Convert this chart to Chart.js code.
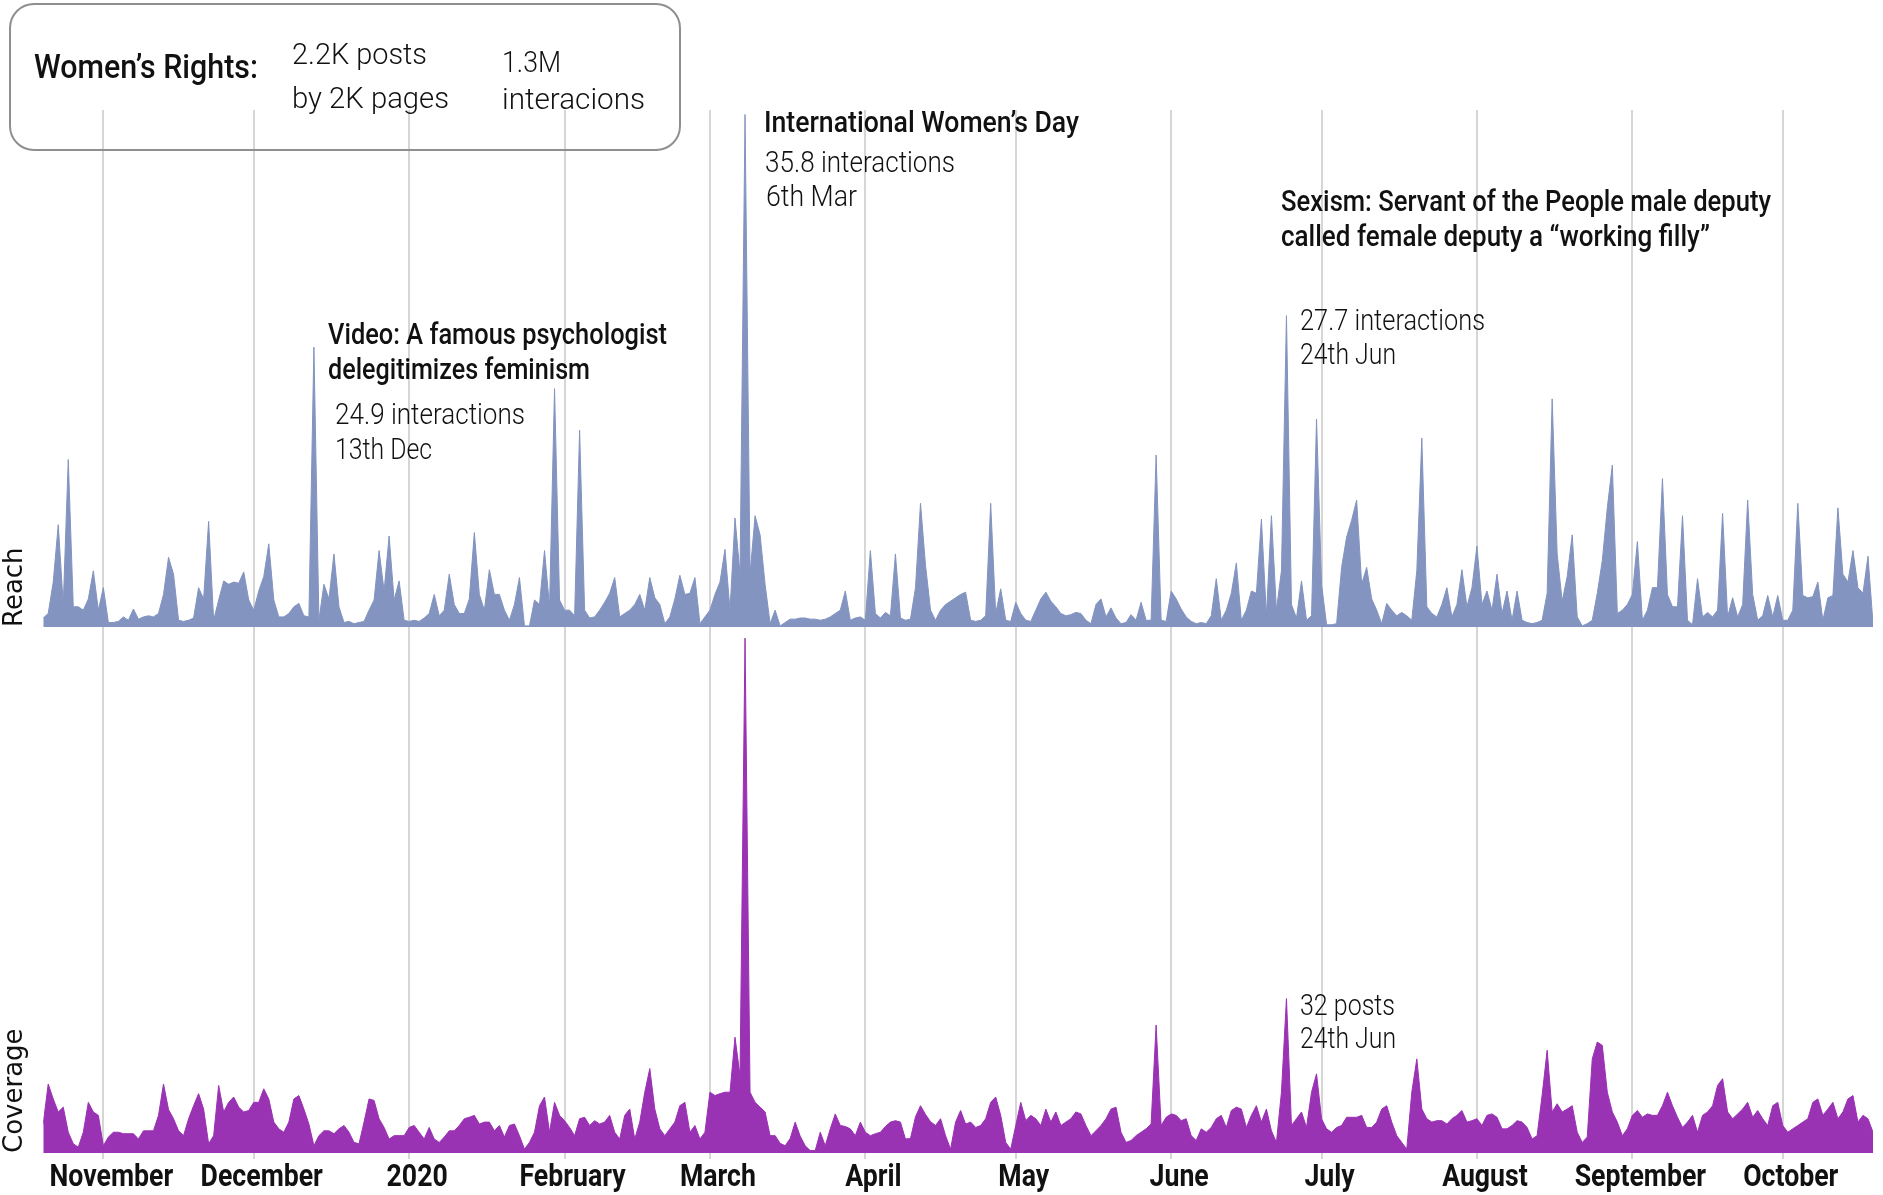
<!DOCTYPE html>
<html>
<head>
<meta charset="utf-8">
<script src="https://cdn.jsdelivr.net/npm/chart.js@4.4.1/dist/chart.umd.min.js"></script>
<style>
html, body { margin: 0; padding: 0; background: #fff; }
#wrap { width: 1883px; height: 1195px; }
</style>
</head>
<body>
<div id="wrap"><canvas id="chart" width="1883" height="1195"></canvas></div>
<script>
// day index 0 = 20 Oct 2019, last = 19 Oct 2020
var monthStarts = [12, 42, 73, 104, 133, 164, 194, 225, 255, 286, 317, 347];
var monthLabels = ['November', 'December', '2020', 'February', 'March', 'April',
                   'May', 'June', 'July', 'August', 'September', 'October'];

// interactions per day (thousands)
var reach = [
  0.8,1.2,4.0,9.1,2.0,14.9,1.8,1.8,1.5,2.5,
  5.0,1.5,3.5,0.4,0.4,0.5,0.9,0.6,1.6,0.7,
  0.9,1.0,0.9,1.2,2.9,6.2,4.7,0.6,0.5,0.6,
  0.8,3.5,2.5,9.4,0.6,2.4,4.1,3.8,4.0,3.9,
  4.9,2.4,1.5,3.2,4.5,7.4,2.4,0.9,0.9,1.2,
  1.8,2.1,1.0,0.9,24.9,0.6,3.8,2.5,6.5,1.8,
  0.4,0.5,0.3,0.4,0.5,1.5,2.4,6.8,3.2,8.1,
  2.4,4.1,0.6,0.5,0.6,0.5,0.8,1.2,2.9,1.0,
  1.5,4.7,2.0,1.2,1.2,2.5,8.4,2.9,1.5,5.1,
  2.9,2.9,1.5,0.6,2.0,4.4,0.1,0.1,2.4,2.0,
  6.8,1.8,21.2,2.4,1.5,1.5,1.0,17.5,1.5,0.8,
  0.9,1.5,2.2,3.0,4.4,0.9,1.2,1.5,2.0,2.9,
  1.5,4.4,2.6,2.0,0.3,0.9,2.5,4.6,2.9,3.0,
  4.4,0.3,0.9,1.5,2.9,4.0,6.9,1.5,9.7,4.7,
  45.6,4.7,9.9,8.2,3.8,0.3,1.5,0.1,0.4,0.7,
  0.7,0.8,0.8,0.7,0.7,0.6,0.7,0.9,1.2,1.5,
  3.2,0.6,0.8,0.9,0.6,6.8,1.2,0.8,1.3,1.0,
  6.5,0.8,0.6,0.7,3.5,11.0,5.5,1.5,0.6,1.5,
  2.0,2.3,2.6,2.9,3.1,0.6,0.5,0.6,1.0,11.0,
  1.2,3.4,0.6,0.5,2.2,1.2,0.6,0.5,1.5,2.5,
  3.1,2.3,1.8,1.2,1.0,1.1,1.3,1.2,0.6,0.3,
  2.0,2.5,0.9,1.7,0.8,0.3,0.4,1.1,0.6,2.2,
  0.6,0.6,15.3,0.6,0.5,3.2,2.5,1.6,0.9,0.5,
  0.3,0.4,0.3,1.0,4.3,0.6,1.5,3.0,5.7,0.6,
  1.5,3.2,3.0,9.6,1.0,9.9,1.5,5.0,27.7,2.0,
  0.8,4.1,0.6,1.0,18.5,3.8,0.2,0.2,0.3,5.3,
  8.0,9.5,11.3,3.8,5.3,2.5,1.5,0.3,2.1,1.5,
  1.0,1.3,1.0,0.6,5.0,16.8,1.8,1.2,0.9,2.0,
  3.5,0.9,2.0,5.1,1.8,3.5,7.2,2.0,3.2,1.5,
  4.7,1.2,3.2,0.6,3.2,0.6,0.4,0.3,0.4,0.6,
  3.0,20.3,6.5,2.3,4.5,8.2,0.9,0.1,0.3,0.6,
  3.0,5.9,10.6,14.4,1.2,1.5,2.0,2.9,7.6,0.6,
  1.5,3.5,3.5,13.2,2.9,1.8,1.8,9.9,0.6,0.2,
  4.3,0.9,1.3,0.9,1.5,10.1,0.9,2.6,0.9,2.0,
  11.3,2.9,0.6,1.0,2.8,0.9,2.8,0.6,0.6,1.5,
  11.0,2.8,2.6,2.7,4.0,0.6,2.6,2.8,10.6,4.7,
  4.0,6.8,3.5,3.0,6.3,0.3
];

// posts per day
var coverage = [
  6.0,14.3,11.2,8.5,9.5,4.3,1.9,1.2,4.3,10.5,
  8.5,7.8,1.5,3.3,4.3,4.3,4.0,4.0,4.0,2.9,
  4.6,4.6,4.6,7.8,14.3,9.0,7.1,4.6,3.6,7.1,
  9.8,12.3,9.1,1.9,3.6,14.0,8.5,10.5,11.6,9.5,
  8.5,8.8,10.5,10.5,13.3,11.2,6.4,5.0,4.3,6.4,
  11.2,11.9,9.1,6.0,1.5,3.6,4.6,4.6,4.0,5.0,
  5.7,4.3,2.2,1.9,6.4,11.2,10.9,7.1,5.3,2.9,
  3.6,3.6,3.6,5.3,5.7,4.3,2.9,5.3,2.9,2.2,
  3.3,4.6,4.6,5.7,7.1,7.4,7.8,6.0,6.4,6.4,
  4.6,5.7,3.3,5.7,6.0,3.6,0.8,2.2,4.3,9.8,
  11.6,4.3,10.5,7.8,6.7,5.3,3.6,7.1,7.4,5.7,
  6.7,6.0,6.4,7.8,4.3,2.9,7.8,9.1,2.9,6.4,
  12.6,17.5,9.1,5.0,3.6,5.0,6.4,9.8,10.5,4.3,
  5.7,2.9,4.3,12.6,11.9,12.3,12.6,12.6,24.0,16.0,
  106.7,12.6,10.5,9.5,8.5,3.6,3.6,2.0,1.5,3.0,
  6.4,3.5,1.5,0.5,0.5,4.3,1.5,5.0,8.1,5.7,
  5.5,5.0,3.6,6.4,4.3,3.6,4.0,4.3,5.5,6.4,
  6.7,6.4,2.9,3.0,7.5,9.8,8.0,6.5,5.7,7.1,
  3.6,0.8,6.4,8.8,6.0,6.4,5.3,5.7,7.1,10.5,
  11.6,7.8,2.2,0.8,5.7,10.5,6.7,7.8,7.1,5.7,
  9.1,6.4,8.5,5.7,6.4,7.1,8.5,8.1,5.7,3.6,
  4.6,5.7,7.1,9.1,9.5,4.3,2.2,2.6,3.6,4.3,
  5.0,6.0,26.5,5.7,7.4,8.1,7.8,6.7,7.1,3.6,
  2.6,5.0,4.3,5.3,7.1,7.8,5.3,8.8,9.5,9.1,
  5.3,7.8,9.8,6.4,9.1,4.6,2.2,12.6,32.0,5.7,
  7.1,8.5,5.3,12.6,16.4,7.1,5.0,4.3,5.3,5.7,
  7.4,7.4,7.4,7.8,5.3,5.3,6.4,9.1,9.8,6.4,
  3.6,2.2,0.8,12.6,19.5,9.1,7.1,6.4,6.7,6.7,
  6.0,7.1,7.8,8.8,6.4,6.7,7.1,5.7,7.8,8.1,
  7.4,5.0,5.0,5.7,6.7,6.4,5.3,2.9,3.6,12.0,
  21.3,8.5,10.2,8.5,9.1,9.8,4.3,2.2,3.3,19.5,
  23.0,22.3,12.6,8.5,6.4,3.6,5.0,7.8,8.8,7.4,
  8.1,7.8,7.8,9.8,12.6,9.8,7.4,5.3,6.4,7.8,
  4.3,7.8,8.5,9.8,14.0,15.4,8.5,7.1,8.1,9.1,
  10.5,7.4,8.8,7.1,5.7,9.8,10.5,5.7,4.3,5.0,
  5.7,6.4,7.1,10.5,11.2,7.8,9.1,10.5,7.1,8.5,
  11.2,11.9,6.4,7.8,7.1,4.3
];

function toPoints(arr) {
  return arr.map(function(v, i) { return {x: i, y: v}; });
}

// draw text squeezed horizontally (the original uses a condensed face)
function fitText(ctx, str, x, y, font, w) {
  ctx.font = font;
  var m = ctx.measureText(str).width;
  ctx.save();
  ctx.translate(x, y);
  ctx.scale(w / m, 1);
  ctx.fillText(str, 0, 0);
  ctx.restore();
}

function squeezeText(ctx, str, x, y, font, k) {
  ctx.font = font;
  ctx.save();
  ctx.translate(x, y);
  ctx.scale(k, 1);
  ctx.fillText(str, 0, 0);
  ctx.restore();
}

var notes = [
  // text, x, y, weight, width
  ['International Women\u2019s Day', 764, 125, 500, 315],
  ['35.8 interactions', 765, 165, 300, 190],
  ['6th Mar', 766, 199, 300, 91],
  ['Video: A famous psychologist', 328, 337, 500, 339],
  ['delegitimizes feminism', 328, 372, 500, 262],
  ['24.9 interactions', 335, 417, 300, 190],
  ['13th Dec', 335, 452, 300, 97],
  ['Sexism: Servant of the People male deputy', 1281, 204, 500, 490],
  ['called female deputy a \u201cworking filly\u201d', 1281, 239, 500, 429],
  ['27.7 interactions', 1300, 323, 300, 185],
  ['24th Jun', 1300, 357, 300, 96],
  ['32 posts', 1300, 1008, 300, 95],
  ['24th Jun', 1300, 1041, 300, 96]
];

var annotations = {
  id: 'annotations',
  afterDraw: function(chart) {
    var ctx = chart.ctx;
    var xs = chart.scales.x;
    ctx.save();
    // summary box
    ctx.beginPath();
    ctx.roundRect(10, 4, 670, 146, 24);
    ctx.lineWidth = 2;
    ctx.strokeStyle = '#8f8f8f';
    ctx.stroke();

    ctx.fillStyle = '#111';
    ctx.textBaseline = 'middle';
    ctx.textAlign = 'left';
    fitText(ctx, 'Women\u2019s Rights:', 34, 70, '500 33px Roboto', 224);
    fitText(ctx, '2.2K posts', 292, 56, '300 30px Roboto', 135);
    fitText(ctx, 'by 2K pages', 292, 100, '300 30px Roboto', 157);
    fitText(ctx, '1.3M', 502, 64, '300 30px Roboto', 59);
    fitText(ctx, 'interacions', 502, 101, '300 30px Roboto', 143);

    notes.forEach(function(n) {
      fitText(ctx, n[0], n[1], n[2], n[3] + ' 29px Roboto', n[4]);
    });

    // month labels under the month gridlines
    ctx.textAlign = 'center';
    monthStarts.forEach(function(v, k) {
      squeezeText(ctx, monthLabels[k], xs.getPixelForValue(v) + 8, 1178, 'bold 31px Roboto', 0.86);
    });
    ctx.restore();
  }
};

var ctx = document.getElementById('chart');
var chart = new Chart(ctx, {
  type: 'line',
  data: {
    datasets: [{
      label: 'Reach',
      data: toPoints(reach),
      yAxisID: 'yReach',
      fill: 'origin',
      backgroundColor: '#8394c0',
      borderColor: '#8394c0',
      borderWidth: 1
    }, {
      label: 'Coverage',
      data: toPoints(coverage),
      yAxisID: 'yCov',
      fill: 'origin',
      backgroundColor: '#9a32b4',
      borderColor: '#9a32b4',
      borderWidth: 1
    }]
  },
  options: {
    responsive: false,
    animation: false,
    layout: { padding: { left: 0, right: 10, top: 110, bottom: 36 } },
    elements: { point: { radius: 0 }, line: { tension: 0 } },
    plugins: { legend: { display: false }, tooltip: { enabled: false } },
    scales: {
      x: {
        type: 'linear',
        min: 0,
        max: 365,
        border: { display: false },
        grid: { color: '#d6d6d6', lineWidth: 2, drawTicks: true, tickLength: 6, tickColor: '#d6d6d6' },
        afterBuildTicks: function(axis) {
          axis.ticks = monthStarts.map(function(v) { return {value: v}; });
        },
        ticks: { display: false }
      },
      yCov: {
        type: 'linear',
        position: 'left',
        stack: 'panels',
        stackWeight: 526,
        min: 0,
        max: 109,
        grid: { display: false, drawTicks: false },
        border: { display: false },
        ticks: { display: false },
        title: { display: true, text: 'Coverage', align: 'start', color: '#111',
                 font: { family: 'DejaVu Sans', size: 26 }, padding: { top: 0, bottom: 12 } }
      },
      yReach: {
        type: 'linear',
        position: 'left',
        stack: 'panels',
        stackWeight: 517,
        min: 0,
        max: 46,
        grid: { display: false, drawTicks: false },
        border: { display: false },
        ticks: { display: false },
        title: { display: true, text: 'Reach', align: 'start', color: '#111',
                 font: { family: 'DejaVu Sans', size: 26 }, padding: { top: 0, bottom: 12 } }
      }
    }
  },
  plugins: [annotations]
});
</script>
</body>
</html>
